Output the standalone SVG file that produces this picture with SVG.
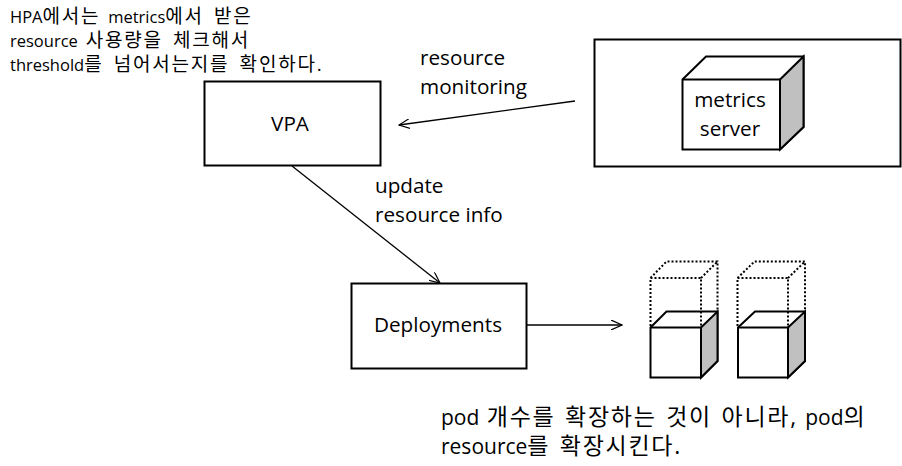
<svg xmlns="http://www.w3.org/2000/svg" width="902" height="466" viewBox="0 0 902 466">
<style>
text{font-family:"Open Sans","Noto Sans CJK KR",sans-serif;fill:#000}
.t{font-size:20.7px}
.s{font-size:16.500px;word-spacing:3.5px}
.s tspan{font-size:19px;letter-spacing:1.8px}
.l{font-size:21px;word-spacing:2px}
.l tspan{font-size:23px;letter-spacing:1.7px}
.b{fill:#fff;stroke:#000;stroke-width:2}
.c{fill:none;stroke:#000;stroke-width:1.3}
.d{fill:none;stroke:#000;stroke-width:2;stroke-dasharray:2 2}
.g{fill:#c0c0c0;stroke:#000;stroke-width:2}
.e{fill:none;stroke:#000;stroke-width:2}
</style>
<defs><marker id="a" viewBox="0 0 12 10" refX="11" refY="5" markerWidth="12" markerHeight="10" markerUnits="userSpaceOnUse" orient="auto"><path d="M0 0L11 5L0 10" fill="none" stroke="#000" stroke-width="1.2"/></marker></defs>
<rect width="902" height="466" fill="#fff"/>
<g id="hpa-note"><text class="s" x="10" y="23">HPA<tspan>에서는</tspan> metrics<tspan>에서 받은</tspan></text><text class="s" x="10" y="47">resource <tspan>사용량을 체크해서</tspan></text><text class="s" x="10" y="71">threshold<tspan>를 넘어서는지를 확인하다.</tspan></text></g>
<g id="vpa"><rect class="b" x="204.500" y="81.500" width="176" height="84"/><text class="t" x="290" y="131" text-anchor="middle">VPA</text></g>
<g id="metrics-server"><rect class="b" x="594.500" y="39.500" width="306" height="127"/>
<path class="b" d="M682.500 79.500L706 56.500H803.500V127L780 149.500H682.500Z"/><path class="g" d="M780 79.500L803.500 56.500V127L780 149.500Z"/><path class="e" d="M682.500 79.500H780"/>
<text class="t" x="730" y="107" text-anchor="middle">metrics</text><text class="t" x="730" y="136" text-anchor="middle">server</text></g>
<g id="deployments"><rect class="b" x="351.500" y="283.500" width="175" height="85"/><text class="t" x="438" y="332" text-anchor="middle">Deployments</text></g>
<g id="pod-1">
<path class="b" d="M650.500 327.500L666.500 311.500H717.500V361L701 377.500H650.500Z"/><path class="g" d="M701 327.500L717.500 311.500V361L701 377.500Z"/><path class="e" d="M650.500 327.500H701"/>
<path class="d" d="M650.500 326V278L666.500 261.500H717.500V311M650.500 278H701V326M701 278L717.500 261.500"/></g>
<g id="pod-2">
<path class="b" d="M738 327.500L755 311.500H805V361L788 377.500H738Z"/><path class="g" d="M788 327.500L805 311.500V361L788 377.500Z"/><path class="e" d="M738 327.500H788"/>
<path class="d" d="M737.500 326V278L754.500 261.500H805V311M737.500 278H788V326M788 278L805 261.500"/></g>
<g id="connectors"><path class="c" marker-end="url(#a)" d="M575 101L399 125"/><path class="c" marker-end="url(#a)" d="M292 166L440 283"/><path class="c" marker-end="url(#a)" d="M527 325H622"/></g>
<g id="labels"><text class="t" x="420" y="65">resource</text><text class="t" x="420" y="94">monitoring</text><text class="t" x="375" y="193">update</text><text class="t" x="375" y="222">resource info</text>
<text class="l" x="441" y="425">pod <tspan>개수를 확장하는 것이 아니라,</tspan> pod<tspan>의</tspan></text><text class="l" x="441" y="454">resource<tspan>를 확장시킨다.</tspan></text></g>
</svg>
